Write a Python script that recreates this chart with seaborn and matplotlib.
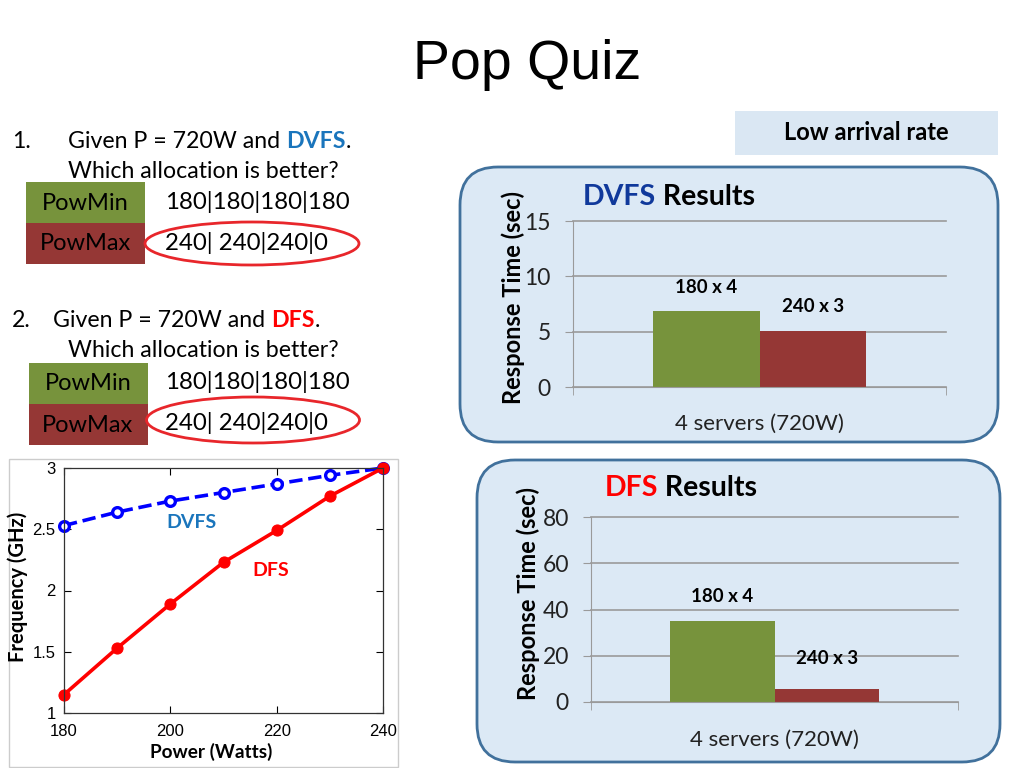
import matplotlib
matplotlib.use("Agg")
import matplotlib.pyplot as plt
from matplotlib.patches import Ellipse, FancyBboxPatch, Rectangle
import numpy as np
import pandas as pd
import seaborn as sns

# frequency vs power curves
power = [180, 190, 200, 210, 220, 230, 240]
freq_dvfs = [2.53, 2.64, 2.73, 2.80, 2.87, 2.94, 3.00]
freq_dfs = [1.15, 1.53, 1.89, 2.23, 2.49, 2.77, 3.00]

# response time bars
group = "4 servers (720W)"
alloc = ["180 x 4", "240 x 3"]
resp_dvfs = [6.9, 5.1]
resp_dfs = [35.0, 5.8]

quiz_min = "180|180|180|180"
quiz_max = "240| 240|240|0"

W, H = 1024, 768
GREEN = "#77933c"
RED = "#953735"
PANEL = "#dce9f5"
EDGE = "#41719c"
BLUE_TXT = "#1a75bc"
GRID = "#9a9a9a"

plt.rcParams["font.family"] = ["Lato", "DejaVu Sans"]

fig = plt.figure(figsize=(W / 100, H / 100), dpi=100)
bg = fig.add_axes([0, 0, 1, 1])
bg.set_xlim(0, W)
bg.set_ylim(H, 0)
bg.axis("off")
rend = fig.canvas.get_renderer()


def rect(x0, y0, x1, y1):
    return [x0 / W, 1 - y1 / H, (x1 - x0) / W, (y1 - y0) / H]


def ftext(x, y, s, **kw):
    kw.setdefault("ha", "center")
    kw.setdefault("va", "center")
    return fig.text(x / W, 1 - y / H, s, **kw)


def width(s, **kw):
    t = fig.text(0, 0, s, **kw)
    w = t.get_window_extent(renderer=rend).width
    t.remove()
    return w


def runs(x, y, parts, size):
    for s, color, weight in parts:
        ftext(x, y, s, ha="left", color=color, fontsize=size, fontweight=weight)
        x += width(s + "|", fontsize=size, fontweight=weight) - width("|", fontsize=size, fontweight=weight)


# background shapes
bg.add_patch(FancyBboxPatch((460, 167), 538, 275, boxstyle="round,pad=0,rounding_size=38",
                            fc=PANEL, ec=EDGE, lw=2))
bg.add_patch(FancyBboxPatch((477, 460), 523, 302, boxstyle="round,pad=0,rounding_size=38",
                            fc=PANEL, ec=EDGE, lw=2))
bg.add_patch(Rectangle((735, 111), 263, 44, fc="#dae7f3", ec="none"))
bg.add_patch(Rectangle((9, 459), 389, 308, fc="white", ec="#cccccc", lw=1))
bg.add_patch(Rectangle((26, 182), 119, 41, fc=GREEN, ec="none"))
bg.add_patch(Rectangle((26, 223), 119, 41, fc=RED, ec="none"))
bg.add_patch(Rectangle((29, 363), 119, 41, fc=GREEN, ec="none"))
bg.add_patch(Rectangle((29, 404), 119, 41, fc=RED, ec="none"))
bg.add_patch(Ellipse((252, 243.5), 214, 43, fc="none", ec="#e8262b", lw=2))
bg.add_patch(Ellipse((253, 420), 213, 46, fc="none", ec="#e8262b", lw=2))

# slide text
ftext(527, 65, "Pop Quiz", fontsize=40, family="Liberation Sans")
ftext(866, 133, "Low arrival rate", fontsize=17, fontweight="bold")

TS = 16.7
ftext(12, 141, "1.", ha="left", fontsize=TS)
runs(68, 141, [("Given P = 720W and ", "black", "normal"), ("DVFS", BLUE_TXT, "bold"),
               (".", "black", "normal")], TS)
ftext(68, 172, "Which allocation is better?", ha="left", fontsize=TS)
ftext(85, 203, "PowMin", fontsize=17)
ftext(85, 244, "PowMax", fontsize=17)
ftext(165, 202, quiz_min, ha="left", fontsize=17.3)
ftext(165, 243, quiz_max, ha="left", fontsize=17.3)

ftext(12, 320, "2.", ha="left", fontsize=TS)
runs(53, 320, [("Given P = 720W and ", "black", "normal"), ("DFS", "#ff0000", "bold"),
               (".", "black", "normal")], TS)
ftext(68, 350, "Which allocation is better?", ha="left", fontsize=TS)
ftext(88, 384, "PowMin", fontsize=17)
ftext(88, 425, "PowMax", fontsize=17)
ftext(165, 382, quiz_min, ha="left", fontsize=17.3)
ftext(165, 423, quiz_max, ha="left", fontsize=17.3)


def bar_panel(box, values, ymax, step, offsets, xpad):
    ax = fig.add_axes(rect(*box))
    df = pd.DataFrame({"group": [group] * len(alloc), "alloc": alloc, "time": values})
    sns.barplot(data=df, x="group", y="time", hue="alloc", palette=[GREEN, RED],
                width=0.57, saturation=1, legend=False, ax=ax)
    ax.set_facecolor("none")
    ax.set_xlim(-0.5, 0.5)
    ax.set_ylim(0, ymax)
    ax.set_yticks(np.arange(0, ymax + 1, step))
    ax.set_xlabel("")
    ax.set_ylabel("")
    ax.yaxis.grid(True, color=GRID, lw=1.2)
    ax.set_axisbelow(True)
    for gl in ax.get_ygridlines():
        gl.set_clip_on(False)
    for s in ["top", "right"]:
        ax.spines[s].set_visible(False)
    for s in ["left", "bottom"]:
        ax.spines[s].set_color(GRID)
    ax.tick_params(axis="y", length=6, color=GRID, labelsize=16.5, pad=10, labelcolor="#222222")
    ax.tick_params(axis="x", length=0, labelsize=16, pad=xpad, labelcolor="#222222")
    ax.set_xticks([-0.5, 0.5], minor=True)
    ax.tick_params(axis="x", which="minor", length=6, color=GRID)
    for bar, txt, off in zip(ax.patches, alloc, offsets):
        ax.annotate(txt, (bar.get_x() + bar.get_width() / 2, bar.get_height()),
                    xytext=(0, off), textcoords="offset points",
                    ha="center", va="center", fontsize=13.5, fontweight="bold")
    return ax


bar_panel((573, 221, 946, 387), resp_dvfs, 15, 5, [17, 17], 19)
ftext(513, 297, "Response Time (sec)", rotation=90, fontsize=17, fontweight="bold")
runs(583, 197, [("DVFS", "#10399b", "bold"), (" Results", "black", "bold")], 20.5)

bar_panel((591, 517, 958, 702), resp_dfs, 80, 20, [18, 22], 20)
ftext(528, 594, "Response Time (sec)", rotation=90, fontsize=17, fontweight="bold")
runs(605, 488, [("DFS", "#ff0000", "bold"), (" Results", "black", "bold")], 20.5)

# frequency chart
ax = fig.add_axes(rect(64, 468, 383, 713))
sns.lineplot(x=power, y=freq_dvfs, ax=ax, color="#0000ff", lw=2.6, linestyle="--",
             marker="o", ms=7, mfc="white", mec="#0000ff", mew=2.4, clip_on=False)
sns.lineplot(x=power, y=freq_dfs, ax=ax, color="#ff0000", lw=2.6,
             marker="o", ms=8, mec="#ff0000", clip_on=False)
ax.set_xlim(180, 240)
ax.set_ylim(1, 3)
ax.set_xticks([180, 200, 220, 240])
ax.set_yticks([1, 1.5, 2, 2.5, 3])
ax.set_yticklabels(["1", "1.5", "2", "2.5", "3"])
ax.tick_params(direction="in", top=True, right=True, labelsize=12, length=5)
ax.tick_params(axis="x", pad=8)
ax.tick_params(axis="y", pad=6)
for lbl in ax.get_xticklabels() + ax.get_yticklabels():
    lbl.set_family("Liberation Sans")
for s in ax.spines.values():
    s.set_color("#333333")
    s.set_linewidth(0.9)
ax.set_xlabel("")
ax.set_ylabel("")
ftext(211, 752, "Power (Watts)", fontsize=13.7, fontweight="bold")
ftext(18, 587, "Frequency (GHz)", rotation=90, fontsize=14.5, fontweight="bold")
ftext(192, 522, "DVFS", color=BLUE_TXT, fontsize=14, fontweight="bold")
ftext(271, 570, "DFS", color="#ff0000", fontsize=14, fontweight="bold")

fig.savefig("out.png", dpi=100)
